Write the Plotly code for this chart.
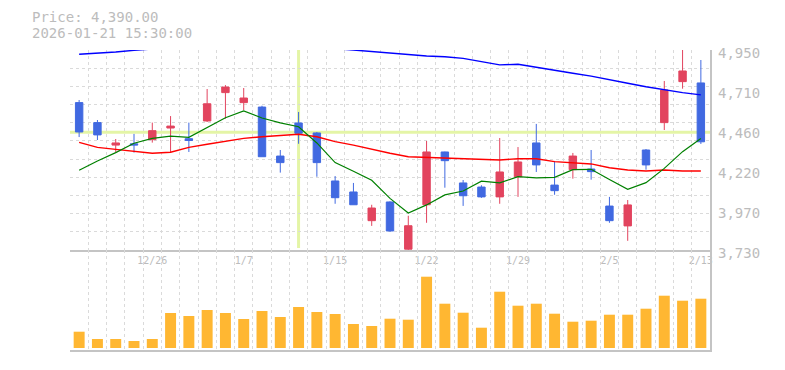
import plotly.graph_objects as go

# ---------------- data ----------------
dates = ["2025-12-22", "2025-12-23", "2025-12-24", "2025-12-25", "2025-12-26",
         "2025-12-29", "2025-12-30", "2026-01-05", "2026-01-06", "2026-01-07",
         "2026-01-08", "2026-01-09", "2026-01-13", "2026-01-14", "2026-01-15",
         "2026-01-16", "2026-01-19", "2026-01-20", "2026-01-21", "2026-01-22",
         "2026-01-23", "2026-01-26", "2026-01-27", "2026-01-28", "2026-01-29",
         "2026-01-30", "2026-02-02", "2026-02-03", "2026-02-04", "2026-02-05",
         "2026-02-06", "2026-02-09", "2026-02-10", "2026-02-12", "2026-02-13"]

opens = [4629, 4507, 4370, 4378, 4403, 4474, 4409, 4517, 4690, 4629,
         4602, 4303, 4505, 4444, 4151, 4084, 3909, 4023, 3735, 4006,
         4328, 4139, 4114, 4054, 4177, 4383, 4126, 4220, 4224, 3998,
         3877, 4340, 4507, 4757, 4749]
highs = [4645, 4523, 4407, 4438, 4507, 4547, 4507, 4712, 4736, 4718,
         4610, 4340, 4572, 4450, 4181, 4139, 4006, 4027, 3939, 4395,
         4330, 4157, 4125, 4413, 4358, 4499, 4273, 4322, 4340, 4054,
         4035, 4346, 4761, 4950, 4889]
lows = [4419, 4401, 4324, 4324, 4385, 4324, 4328, 4511, 4531, 4584,
        4299, 4202, 4378, 4177, 4012, 4006, 3877, 3842, 3730, 3896,
        4110, 3999, 4048, 4012, 4054, 4206, 4067, 4165, 4159, 3896,
        3786, 4220, 4462, 4714, 4377]
closes = [4450, 4432, 4383, 4370, 4458, 4486, 4398, 4622, 4724, 4657,
          4299, 4263, 4442, 4263, 4049, 4006, 3986, 3846, 3878, 4328,
          4275, 4061, 4054, 4206, 4267, 4249, 4092, 4303, 4208, 3909,
          4005, 4249, 4706, 4822, 4390]

volumes = [16300, 9000, 9000, 7000, 9000, 35000, 32000, 38000, 35000, 29000,
           37000, 31000, 41000, 36000, 34000, 24000, 22000, 29300, 28300, 71300,
           44300, 35300, 20300, 56300, 42300, 44300, 34300, 26300, 27300, 33300,
           33300, 39300, 52300, 47300, 49300]

ma_short = [4216, 4273, 4324, 4381, 4411, 4425, 4417, 4478, 4537, 4578,
            4535, 4505, 4482, 4383, 4263, 4210, 4155, 4045, 3956, 4005,
            4066, 4090, 4150, 4140, 4177, 4170, 4173, 4220, 4222, 4160,
            4100, 4141, 4228, 4330, 4410]
ma_mid = [4387, 4356, 4344, 4334, 4320, 4326, 4356, 4375, 4391, 4411,
          4421, 4427, 4436, 4421, 4391, 4370, 4344, 4320, 4299, 4295,
          4295, 4291, 4287, 4279, 4287, 4287, 4269, 4263, 4255, 4232,
          4218, 4212, 4218, 4212, 4212]
ma_long = [4924, 4930, 4938, 4948, 4958, 4964, 4968, 4970, 4972, 4972,
           4970, 4968, 4966, 4962, 4958, 4950, 4940, 4930, 4924, 4913,
           4909, 4899, 4879, 4859, 4863, 4844, 4824, 4808, 4791, 4767,
           4747, 4726, 4706, 4690, 4676]

x_tick_dates = ["2025-12-26", "2026-01-07", "2026-01-15", "2026-01-22",
                "2026-01-29", "2026-02-05", "2026-02-13"]
x_tick_labels = ["12/26", "1/7", "1/15", "1/22", "1/29", "2/5", "2/13"]

price_min, price_max = 3730, 4950
y_tick_vals = [3730, 3974, 4218, 4462, 4706, 4950]
y_tick_labels = ["3,730", "3,970", "4,220", "4,460", "4,710", "4,950"]

cross_date = "2026-01-13"
cross_price = 4448
info_price = "Price: 4,390.00"
info_time = "2026-01-21 15:30:00"

# ---------------- styles ----------------
UP = "#e2445e"
DOWN = "#4169e1"
VOL = "#ffb732"
GRID = "#dadada"
BORDER = "#c4c4c4"
TXT = "#bcbcbc"
CROSS = "#e4f5a6"
MONO = "DejaVu Sans Mono"

# the page body has an 8px default margin, so the figure is laid out 8px smaller
OFF = 8
W, H = 785 - OFF, 370 - OFF
ML, MT = 70 - OFF, 50 - OFF
MR = W - (710 - OFF)
MB = H - (350 - OFF)
plot_h = H - MT - MB
plot_w = W - ML - MR
price_bottom_px = 250 - OFF
split = (H - MB - price_bottom_px) / plot_h  # paper y of price panel bottom


def paper_y(screen_y):
    return (H - MB - (screen_y - OFF)) / plot_h


def paper_x(screen_x):
    return ((screen_x - OFF) - ML) / plot_w


ticktext_all = [x_tick_labels[x_tick_dates.index(d)] if d in x_tick_dates else "" for d in dates]

fig = go.Figure()

fig.add_trace(go.Scatter(x=dates, y=ma_long, mode="lines", line=dict(color="#0000ff", width=1.4),
                         xaxis="x", yaxis="y", hoverinfo="skip", showlegend=False))
fig.add_trace(go.Scatter(x=dates, y=ma_mid, mode="lines", line=dict(color="#ff0000", width=1.4),
                         xaxis="x", yaxis="y", hoverinfo="skip", showlegend=False))
fig.add_trace(go.Scatter(x=dates, y=ma_short, mode="lines", line=dict(color="#008000", width=1.2),
                         xaxis="x", yaxis="y", hoverinfo="skip", showlegend=False))

fig.add_trace(go.Candlestick(
    x=dates, open=opens, high=highs, low=lows, close=closes,
    increasing=dict(line=dict(color=UP, width=1), fillcolor=UP),
    decreasing=dict(line=dict(color=DOWN, width=1), fillcolor=DOWN),
    whiskerwidth=0, xaxis="x", yaxis="y", showlegend=False, hoverinfo="skip"))

fig.add_trace(go.Bar(x=dates, y=volumes, marker=dict(color=VOL, line=dict(width=0)),
                     xaxis="x2", yaxis="y2", showlegend=False, hoverinfo="skip"))

xcommon = dict(type="category", categoryorder="array", categoryarray=dates,
               range=[-0.5, len(dates) - 0.5],
               tickmode="array", tickvals=dates, tickson="boundaries",
               showgrid=True, gridcolor=GRID, griddash="3px,3px", gridwidth=1,
               zeroline=False, fixedrange=True)

fig.update_layout(
    width=W, height=H,
    margin=dict(l=ML, r=MR, t=MT, b=MB, autoexpand=False),
    paper_bgcolor="white", plot_bgcolor="white",
    showlegend=False, hovermode=False,
    boxgap=0.42, bargap=0.4,
    xaxis=dict(**xcommon, anchor="y", domain=[0, 1], ticktext=ticktext_all,
               showticklabels=True, ticks="outside", ticklen=6, tickangle=0,
               tickcolor="rgba(0,0,0,0)",
               tickfont=dict(family=MONO, size=10, color=TXT),
               showline=True, linecolor=BORDER, linewidth=2,
               rangeslider=dict(visible=False)),
    xaxis2=dict(**xcommon, anchor="y2", domain=[0, 1], matches="x",
                ticktext=[""] * len(dates), showticklabels=False, ticks="",
                showline=True, linecolor=BORDER, linewidth=2),
    yaxis=dict(domain=[split, 1], anchor="x", range=[price_min, price_max],
               tickmode="linear", tick0=price_min, dtick=(price_max - price_min) / 11,
               showgrid=True, gridcolor=GRID, griddash="3px,3px", gridwidth=1,
               showticklabels=False, ticks="", zeroline=False, side="right",
               showline=True, linecolor=BORDER, linewidth=2, fixedrange=True),
    yaxis2=dict(domain=[0, split], anchor="x2", range=[-2000, 98000],
                showgrid=False, showticklabels=False, ticks="", zeroline=False,
                side="right", showline=True, linecolor=BORDER, linewidth=2,
                fixedrange=True),
    font=dict(family=MONO, color=TXT),
)

# right-side price labels, placed on the price scale
for v, t in zip(y_tick_vals, y_tick_labels):
    fig.add_annotation(text=t, xref="x domain", yref="y", x=1, y=v,
                       xanchor="left", yanchor="middle", xshift=6, yshift=-2.5,
                       showarrow=False, font=dict(family=MONO, size=14, color=TXT))

ci = dates.index(cross_date)
fig.add_shape(type="line", xref="x", yref="y domain", x0=ci, x1=ci, y0=0.01, y1=1,
              line=dict(color=CROSS, width=3), layer="below")
fig.add_shape(type="line", xref="x domain", yref="y", x0=0, x1=1, y0=cross_price, y1=cross_price,
              line=dict(color=CROSS, width=3), layer="below")

fig.add_annotation(text=info_price, xref="paper", yref="paper",
                   x=paper_x(30), y=paper_y(17),
                   xanchor="left", yanchor="middle", showarrow=False,
                   font=dict(family=MONO, size=14, color=TXT))
fig.add_annotation(text=info_time, xref="paper", yref="paper",
                   x=paper_x(30), y=paper_y(33),
                   xanchor="left", yanchor="middle", showarrow=False,
                   font=dict(family=MONO, size=14, color=TXT))

fig.write_html("out.html")
